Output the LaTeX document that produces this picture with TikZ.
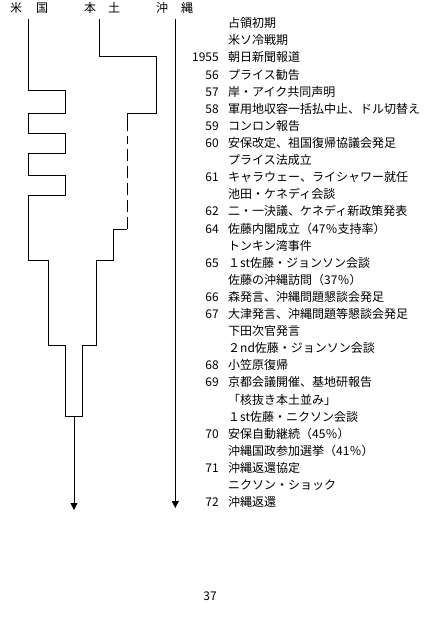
\documentclass[tikz,border=0pt]{standalone}
\usepackage{fontspec}
\setmainfont{Noto Sans CJK JP}
\usetikzlibrary{arrows.meta}
\tikzset{
  chartline/.style={line width=0.9pt},
  hdr/.style={inner sep=0pt, font=\fontsize{12}{12}\selectfont, text height=0.88em, text depth=0.12em},
  yr/.style={inner sep=0pt, anchor=east, font=\fontsize{12}{12}\selectfont, text height=0.88em, text depth=0.12em},
  ev/.style={inner sep=0pt, anchor=west, font=\fontsize{12}{12}\selectfont, text height=0.88em, text depth=0.12em},
  tip/.style={-{Triangle[length=7pt,width=7pt]}}
}
\begin{document}
\begin{tikzpicture}[x=1pt,y=-1pt]
\useasboundingbox (0,0) rectangle (447,626);
% headers
\node[hdr] (h1) at (16,9) {米};
\node[hdr] (h2) at (42,9) {国};
\node[hdr] (h3) at (90,9) {本};
\node[hdr] (h4) at (114,9) {土};
\node[hdr] (h5) at (162,9) {沖};
\node[hdr] (h6) at (187,9) {縄};
% chart outline
\draw[chartline] (28.5,19) -- (28.5,90) -- (65,90) -- (65,113.3) -- (28.5,113.3)
  -- (28.5,133.3) -- (65,133.3) -- (65,153.3) -- (28.5,153.3)
  -- (28.5,175.3) -- (65,175.3) -- (65,195.3) -- (28.5,195.3)
  -- (28.5,260) -- (48.3,260) -- (48.3,345.3) -- (65.3,345.3) -- (65.3,416.7)
  -- (82.7,416.7) -- (82.7,345.3) -- (96.7,345.3) -- (96.7,260) -- (113.3,260)
  -- (113.3,229.3) -- (127.3,229.3);
\draw[chartline] (127.3,131) -- (127.3,113.3) -- (156.7,113.3) -- (156.7,56) -- (99.3,56) -- (99.3,19);
\draw[chartline, dash pattern=on 12pt off 5pt] (127.3,229.3) -- (127.3,136);
\coordinate (jb) at (74,416.7);
\coordinate (je) at (74,510);
\coordinate (ob) at (175.3,19);
\coordinate (oe) at (175.3,508);
\draw[chartline, tip] (jb) -- (je);
\draw[chartline, tip] (ob) -- (oe);
% events
\def\yx{219}
\def\tx{228}
\node[ev] (e0) at (\tx,24.0) {占領初期};
\node[ev] (e1) at (\tx,41.1) {米ソ冷戦期};
\node[yr] (y2) at (\yx,58.2) {1955};
\node[ev] (e2) at (\tx,58.2) {朝日新聞報道};
\node[yr] (y3) at (\yx,75.3) {56};
\node[ev] (e3) at (\tx,75.3) {プライス勧告};
\node[yr] (y4) at (\yx,92.4) {57};
\node[ev] (e4) at (\tx,92.4) {岸・アイク共同声明};
\node[yr] (y5) at (\yx,109.5) {58};
\node[ev] (e5) at (\tx,109.5) {軍用地収容一括払中止、ドル切替え};
\node[yr] (y6) at (\yx,126.6) {59};
\node[ev] (e6) at (\tx,126.6) {コンロン報告};
\node[yr] (y7) at (\yx,143.7) {60};
\node[ev] (e7) at (\tx,143.7) {安保改定、祖国復帰協議会発足};
\node[ev] (e8) at (\tx,160.8) {プライス法成立};
\node[yr] (y9) at (\yx,177.9) {61};
\node[ev] (e9) at (\tx,177.9) {キャラウェー、ライシャワー就任};
\node[ev] (e10) at (\tx,195.0) {池田・ケネディ会談};
\node[yr] (y11) at (\yx,212.1) {62};
\node[ev] (e11) at (\tx,212.1) {二・一決議、ケネディ新政策発表};
\node[yr] (y12) at (\yx,229.2) {64};
\node[ev] (e12) at (\tx,229.2) {佐藤内閣成立（47％支持率）};
\node[ev] (e13) at (\tx,246.3) {トンキン湾事件};
\node[yr] (y14) at (\yx,263.4) {65};
\node[ev] (e14) at (\tx,263.4) {１st佐藤・ジョンソン会談};
\node[ev] (e15) at (\tx,280.5) {佐藤の沖縄訪問（37％）};
\node[yr] (y16) at (\yx,297.6) {66};
\node[ev] (e16) at (\tx,297.6) {森発言、沖縄問題懇談会発足};
\node[yr] (y17) at (\yx,314.7) {67};
\node[ev] (e17) at (\tx,314.7) {大津発言、沖縄問題等懇談会発足};
\node[ev] (e18) at (\tx,331.8) {下田次官発言};
\node[ev] (e19) at (\tx,348.9) {２nd佐藤・ジョンソン会談};
\node[yr] (y20) at (\yx,366.0) {68};
\node[ev] (e20) at (\tx,366.0) {小笠原復帰};
\node[yr] (y21) at (\yx,383.1) {69};
\node[ev] (e21) at (\tx,383.1) {京都会議開催、基地研報告};
\node[ev] (e22) at (\tx,400.2) {「核抜き本土並み」};
\node[ev] (e23) at (\tx,417.3) {１st佐藤・ニクソン会談};
\node[yr] (y24) at (\yx,434.4) {70};
\node[ev] (e24) at (\tx,434.4) {安保自動継続（45％）};
\node[ev] (e25) at (\tx,451.5) {沖縄国政参加選挙（41％）};
\node[yr] (y26) at (\yx,468.6) {71};
\node[ev] (e26) at (\tx,468.6) {沖縄返還協定};
\node[ev] (e27) at (\tx,485.7) {ニクソン・ショック};
\node[yr] (y28) at (\yx,502.8) {72};
\node[ev] (e28) at (\tx,502.8) {沖縄返還};
\node[hdr] (pg) at (210,597) {37};
\end{tikzpicture}
\end{document}
